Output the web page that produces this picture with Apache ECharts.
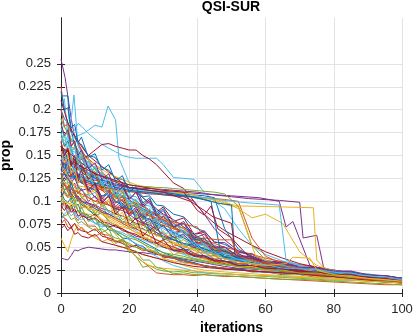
<!DOCTYPE html>
<html>
<head>
<meta charset="utf-8">
<style>html,body{margin:0;padding:0;background:#fff}#c{width:414px;height:333px}</style>
<script src="https://cdn.jsdelivr.net/npm/echarts@6/dist/echarts.min.js"></script>
</head>
<body>
<div id="c"></div>
<script>
// MATLAB default colour order
const palette = ['#0072BD','#D95319','#EDB120','#7E2F8E','#77AC30','#4DBEEE','#A2142F'];
const xTicks = [0,20,40,60,80,100];
const yTicks = [0,0.025,0.05,0.075,0.1,0.125,0.15,0.175,0.2,0.225,0.25];
// shared iteration grid for the bulk of the runs
const X = [0,1,2,3,4,5,6,8,10,12,14,16,18,20,22,24,26,28,30,33,36,39,42,45,48,52,56,60,65,70,75,80,85,90,95,100];
const runsL = [
 [.110,.102,.099,.104,.093,.097,.087,.085,.076,.077,.069,.067,.060,.059,.053,.051,.045,.046,.039,.038,.033,.033,.029,.029,.026,.026,.023,.023,.020,.020,.017,.017,.014,.014,.012,.011],
 [.090,.099,.086,.093,.084,.079,.084,.073,.073,.064,.063,.056,.056,.047,.040,.034,.028,.022,.021,.020,.020,.019,.020,.019,.018,.018,.017,.016,.015,.014,.013,.012,.011,.010,.009,.009],
 [.060,.052,.045,.058,.068,.074,.070,.065,.060,.056,.059,.052,.050,.047,.045,.042,.040,.038,.037,.035,.033,.031,.030,.028,.027,.026,.024,.023,.021,.020,.018,.017,.015,.014,.013,.012],
 [.038,.037,.036,.041,.047,.046,.048,.050,.049,.048,.047,.047,.046,.045,.044,.044,.043,.042,.041,.039,.037,.035,.033,.031,.029,.027,.026,.025,.023,.021,.019,.018,.016,.015,.014,.013],
 [.130,.121,.119,.110,.109,.101,.102,.090,.087,.078,.074,.065,.061,.048,.040,.028,.030,.026,.024,.023,.024,.022,.022,.021,.021,.020,.019,.018,.017,.016,.015,.014,.014,.013,.012,.011],
 [.100,.094,.090,.096,.086,.082,.088,.080,.076,.072,.074,.066,.064,.058,.054,.050,.044,.040,.035,.030,.027,.024,.022,.021,.021,.020,.019,.019,.018,.017,.016,.015,.014,.013,.012,.011],
 [.085,.082,.078,.072,.076,.070,.068,.066,.070,.062,.060,.057,.054,.050,.052,.048,.045,.043,.040,.038,.035,.032,.030,.028,.027,.026,.024,.023,.022,.021,.020,.018,.016,.015,.014,.013],
 [.120,.112,.115,.106,.100,.104,.096,.092,.084,.088,.078,.074,.070,.064,.060,.056,.052,.048,.044,.040,.036,.033,.030,.028,.027,.026,.024,.023,.022,.021,.020,.018,.016,.015,.013,.012],
 [.075,.080,.072,.070,.076,.068,.072,.064,.062,.066,.058,.056,.058,.052,.050,.046,.047,.043,.040,.038,.035,.032,.030,.028,.027,.025,.024,.023,.022,.021,.019,.018,.017,.015,.013,.012],
 [.140,.132,.126,.120,.116,.110,.106,.098,.092,.086,.080,.076,.070,.064,.058,.054,.048,.044,.038,.034,.030,.027,.025,.024,.023,.022,.021,.020,.019,.018,.017,.016,.015,.013,.012,.011],
 [.105,.110,.104,.114,.108,.100,.104,.098,.096,.092,.090,.086,.084,.080,.076,.074,.070,.066,.062,.058,.054,.050,.046,.043,.040,.037,.034,.031,.029,.027,.024,.022,.020,.018,.016,.014]
];
const runsB = [
 [.160,.152,.150,.140,.148,.136,.135,.128,.125,.118,.116,.108,.105,.098,.097,.090,.089,.080,.079,.070,.067,.058,.056,.048,.046,.039,.037,.032,.031,.027,.026,.022,.021,.019,.017,.015],
 [.180,.170,.168,.155,.154,.148,.146,.136,.132,.124,.122,.114,.114,.106,.105,.096,.095,.086,.085,.074,.071,.062,.059,.050,.048,.041,.039,.033,.032,.027,.026,.023,.021,.019,.017,.015],
 [.150,.138,.145,.128,.136,.124,.130,.112,.120,.104,.112,.098,.106,.090,.098,.082,.090,.076,.080,.066,.068,.055,.054,.046,.045,.039,.037,.032,.031,.027,.026,.022,.022,.018,.018,.015],
 [.200,.190,.186,.175,.172,.163,.162,.150,.148,.137,.134,.125,.124,.115,.114,.105,.106,.096,.095,.086,.083,.072,.067,.056,.053,.045,.042,.035,.033,.028,.027,.023,.022,.019,.018,.016],
 [.140,.146,.136,.130,.138,.126,.120,.124,.116,.112,.106,.108,.100,.094,.096,.088,.084,.080,.076,.072,.066,.062,.056,.052,.047,.042,.038,.035,.032,.029,.026,.023,.021,.019,.017,.015],
 [.170,.160,.164,.146,.150,.136,.142,.122,.128,.112,.120,.102,.110,.094,.100,.086,.092,.078,.084,.070,.072,.058,.060,.048,.047,.040,.038,.033,.032,.027,.026,.022,.022,.018,.018,.015],
 [.130,.122,.128,.114,.120,.108,.114,.100,.106,.094,.100,.090,.096,.086,.092,.082,.088,.078,.084,.072,.076,.064,.068,.055,.055,.044,.043,.035,.034,.029,.028,.023,.023,.019,.019,.016],
 [.120,.132,.120,.122,.106,.116,.104,.108,.096,.100,.088,.092,.080,.084,.074,.078,.066,.072,.060,.064,.052,.056,.045,.047,.038,.038,.032,.032,.028,.028,.024,.024,.020,.020,.016,.015],
 [.190,.180,.178,.166,.164,.153,.152,.139,.138,.127,.126,.115,.114,.103,.102,.091,.090,.079,.078,.066,.063,.054,.051,.044,.042,.037,.036,.031,.030,.027,.025,.023,.021,.019,.017,.015],
 [.210,.198,.186,.178,.172,.166,.160,.150,.144,.138,.132,.126,.120,.114,.110,.104,.098,.092,.086,.080,.072,.064,.056,.050,.045,.041,.037,.034,.031,.028,.025,.023,.021,.019,.017,.015],
 [.150,.156,.146,.140,.148,.136,.132,.126,.128,.120,.116,.110,.106,.102,.096,.092,.088,.084,.078,.072,.066,.060,.055,.050,.045,.041,.037,.034,.031,.028,.026,.023,.021,.019,.017,.015],
 [.110,.118,.114,.122,.116,.110,.112,.104,.100,.104,.096,.092,.094,.088,.086,.082,.080,.076,.074,.070,.066,.062,.058,.054,.050,.046,.042,.038,.034,.031,.028,.025,.022,.020,.018,.016],
 [.165,.150,.152,.134,.140,.122,.128,.108,.114,.096,.102,.086,.094,.078,.084,.070,.076,.062,.068,.054,.058,.046,.050,.040,.040,.034,.033,.029,.029,.025,.025,.021,.021,.018,.016,.014],
 [.145,.136,.142,.126,.138,.122,.128,.112,.118,.102,.110,.094,.102,.086,.094,.080,.088,.072,.080,.064,.068,.054,.056,.044,.045,.037,.037,.031,.030,.026,.026,.022,.022,.018,.018,.015],
 [.100,.112,.106,.110,.098,.104,.092,.098,.086,.096,.082,.090,.076,.084,.070,.078,.064,.072,.058,.062,.050,.054,.044,.045,.037,.037,.031,.031,.027,.027,.023,.023,.019,.019,.016,.014]
];
const runsC = [
 [.140,.150,.160,.172,.178,.185,.182,.174,.168,.162,.158,.154,.150,.148,.147,.147,.147,.147,.140,.126,.125,.124,.110,.100,.092,.070,.052,.042,.035,.030,.027,.024,.022,.019,.017,.015],
 [.150,.146,.140,.144,.138,.142,.146,.150,.156,.162,.163,.160,.158,.156,.156,.150,.146,.140,.132,.120,.114,.100,.086,.076,.068,.060,.052,.045,.038,.032,.028,.025,.022,.020,.018,.016],
 [.160,.154,.146,.140,.134,.130,.126,.122,.118,.116,.114,.113,.112,.112,.111,.111,.110,.110,.110,.109,.108,.107,.106,.104,.070,.048,.040,.034,.030,.027,.025,.022,.020,.018,.017,.015],
 [.140,.132,.136,.128,.124,.122,.120,.118,.116,.115,.114,.113,.112,.111,.110,.110,.109,.108,.108,.107,.106,.105,.104,.103,.102,.100,.060,.040,.032,.027,.024,.022,.020,.018,.017,.015],
 [.170,.162,.156,.150,.142,.138,.134,.126,.120,.116,.114,.112,.111,.110,.110,.109,.109,.108,.107,.106,.105,.104,.103,.102,.100,.092,.082,.086,.076,.045,.030,.024,.021,.019,.017,.015],
 [.120,.126,.130,.124,.128,.124,.122,.120,.118,.116,.114,.113,.112,.111,.110,.109,.108,.108,.107,.106,.105,.100,.086,.070,.058,.046,.040,.034,.030,.027,.025,.022,.020,.018,.017,.015],
 [.190,.182,.174,.168,.162,.156,.150,.142,.136,.130,.126,.122,.120,.118,.117,.116,.116,.115,.115,.114,.113,.112,.111,.110,.108,.095,.052,.036,.030,.027,.025,.022,.020,.018,.017,.015]
];
const runsE = [
 [.130,.140,.126,.122,.132,.118,.112,.106,.110,.096,.088,.084,.076,.072,.068,.062,.058,.054,.050,.046,.042,.038,.035,.033,.031,.029,.027,.025,.023,.021,.020,.018,.016,.015,.013,.012],
 [.095,.100,.092,.096,.088,.090,.084,.082,.086,.078,.076,.072,.070,.066,.064,.060,.058,.055,.052,.048,.045,.042,.039,.036,.034,.031,.029,.027,.025,.023,.021,.019,.017,.016,.014,.013],
 [.175,.160,.166,.156,.146,.152,.134,.138,.118,.124,.104,.110,.092,.098,.080,.086,.068,.074,.058,.062,.046,.050,.040,.041,.034,.035,.029,.029,.025,.025,.021,.021,.018,.017,.015,.013],
 [.155,.150,.158,.146,.140,.134,.136,.126,.120,.116,.110,.104,.100,.096,.094,.090,.086,.080,.076,.072,.066,.058,.052,.047,.043,.039,.036,.033,.030,.028,.026,.024,.022,.020,.017,.015],
 [.115,.108,.104,.110,.100,.104,.098,.094,.090,.086,.082,.078,.074,.070,.066,.062,.058,.055,.052,.048,.044,.040,.037,.034,.032,.030,.028,.026,.024,.022,.021,.019,.017,.016,.014,.012],
 [.135,.130,.124,.120,.126,.116,.112,.114,.104,.100,.096,.092,.090,.086,.080,.076,.074,.070,.064,.058,.054,.050,.045,.042,.039,.036,.033,.031,.028,.026,.024,.022,.020,.018,.016,.014],
 [.185,.170,.176,.154,.160,.140,.148,.130,.136,.116,.122,.104,.110,.092,.098,.080,.086,.070,.074,.058,.062,.048,.050,.041,.042,.035,.036,.030,.030,.026,.026,.022,.022,.018,.018,.015],
 [.080,.086,.090,.084,.088,.082,.080,.084,.076,.074,.072,.068,.066,.062,.060,.058,.055,.052,.050,.046,.043,.040,.037,.035,.033,.031,.029,.027,.025,.023,.021,.019,.017,.016,.014,.012],
 [.160,.150,.156,.140,.150,.136,.140,.124,.130,.114,.122,.108,.116,.102,.110,.096,.102,.088,.094,.078,.082,.064,.066,.050,.050,.040,.040,.033,.032,.027,.027,.022,.022,.018,.018,.016],
 [.125,.118,.112,.120,.110,.104,.100,.096,.092,.088,.086,.082,.078,.076,.072,.070,.066,.064,.060,.058,.054,.052,.048,.045,.042,.039,.036,.033,.030,.028,.026,.023,.021,.019,.017,.015],
 [.200,.182,.184,.160,.166,.144,.150,.128,.132,.112,.116,.098,.102,.086,.090,.074,.078,.062,.066,.051,.054,.043,.045,.037,.038,.032,.032,.028,.028,.024,.024,.020,.020,.016,.016,.013],
 [.105,.098,.100,.094,.096,.090,.088,.086,.084,.080,.078,.074,.072,.070,.066,.064,.062,.058,.056,.054,.050,.048,.045,.042,.039,.036,.034,.031,.029,.027,.025,.023,.021,.019,.017,.015],
 [.145,.134,.142,.128,.132,.120,.124,.110,.116,.100,.106,.092,.098,.084,.090,.076,.082,.068,.074,.060,.064,.051,.054,.043,.044,.037,.038,.031,.032,.027,.027,.023,.023,.019,.018,.015],
 [.090,.084,.086,.080,.082,.076,.078,.072,.068,.070,.064,.060,.058,.054,.050,.048,.046,.044,.042,.040,.038,.036,.034,.032,.031,.029,.027,.026,.024,.022,.021,.019,.017,.015,.014,.013],
 [.165,.172,.156,.160,.146,.156,.140,.144,.126,.132,.114,.120,.104,.110,.094,.100,.086,.092,.076,.080,.064,.066,.052,.052,.042,.042,.035,.034,.029,.029,.025,.025,.021,.021,.018,.016],
 [.070,.074,.068,.072,.064,.066,.062,.060,.064,.056,.054,.052,.050,.048,.045,.042,.040,.038,.036,.033,.031,.029,.028,.027,.026,.025,.024,.023,.022,.021,.019,.018,.016,.014,.012,.011],
 [.220,.200,.202,.180,.184,.164,.170,.148,.152,.134,.140,.122,.128,.110,.116,.098,.104,.086,.092,.072,.076,.058,.060,.046,.047,.038,.038,.032,.031,.027,.027,.023,.023,.019,.019,.016],
 [.125,.132,.136,.128,.132,.124,.126,.120,.116,.112,.110,.106,.104,.100,.098,.094,.090,.086,.082,.076,.070,.062,.055,.049,.044,.040,.036,.033,.030,.028,.026,.023,.021,.019,.017,.015],
 [.140,.134,.128,.122,.116,.110,.104,.096,.088,.080,.072,.064,.056,.048,.040,.034,.030,.028,.027,.026,.025,.024,.023,.022,.021,.020,.019,.019,.018,.017,.016,.015,.014,.013,.012,.011],
 [.105,.112,.116,.108,.104,.106,.100,.098,.094,.090,.086,.082,.078,.074,.070,.066,.062,.058,.054,.050,.046,.042,.038,.035,.032,.030,.028,.026,.024,.022,.021,.019,.017,.016,.014,.013]
];
const runsF = [
 [.125,.112,.116,.098,.104,.088,.094,.078,.082,.066,.070,.054,.058,.044,.046,.036,.036,.028,.026,.021,.022,.020,.020,.019,.019,.018,.017,.016,.015,.015,.014,.013,.012,.011,.010,.009],
 [.175,.162,.172,.152,.160,.142,.150,.130,.138,.118,.126,.106,.114,.096,.102,.086,.092,.076,.080,.064,.068,.052,.054,.043,.044,.036,.036,.030,.030,.026,.026,.022,.022,.018,.018,.015],
 [.095,.090,.096,.088,.092,.084,.086,.080,.082,.076,.072,.074,.068,.066,.062,.060,.056,.054,.050,.047,.044,.041,.038,.035,.032,.030,.028,.026,.024,.022,.020,.018,.017,.015,.014,.012],
 [.135,.142,.130,.136,.126,.130,.120,.116,.112,.106,.108,.100,.096,.092,.088,.084,.080,.076,.072,.066,.060,.054,.048,.044,.040,.036,.033,.030,.028,.026,.024,.022,.020,.018,.016,.015],
 [.115,.120,.110,.104,.112,.102,.098,.092,.096,.088,.084,.080,.076,.072,.070,.066,.062,.058,.054,.050,.046,.042,.038,.035,.033,.030,.028,.026,.024,.022,.020,.019,.017,.015,.014,.012],
 [.155,.142,.148,.130,.136,.120,.126,.108,.112,.094,.100,.082,.088,.070,.076,.058,.062,.050,.054,.042,.045,.036,.038,.032,.033,.028,.029,.025,.025,.022,.022,.019,.019,.016,.015,.013],
 [.185,.172,.178,.160,.166,.150,.156,.136,.142,.124,.130,.112,.120,.102,.110,.094,.100,.084,.090,.072,.078,.060,.064,.050,.050,.040,.040,.034,.033,.028,.028,.024,.024,.020,.019,.016],
 [.105,.100,.096,.092,.098,.090,.088,.084,.080,.076,.072,.068,.064,.060,.058,.054,.050,.047,.044,.042,.040,.037,.035,.033,.031,.029,.027,.026,.024,.022,.021,.019,.017,.016,.014,.013],
 [.145,.154,.138,.150,.132,.140,.124,.130,.114,.122,.104,.112,.094,.102,.084,.092,.074,.082,.064,.068,.052,.056,.044,.045,.037,.037,.032,.031,.027,.027,.023,.023,.019,.019,.016,.015],
 [.165,.150,.158,.138,.146,.126,.134,.112,.120,.098,.106,.086,.094,.074,.082,.062,.070,.054,.058,.046,.048,.040,.041,.035,.035,.030,.030,.027,.026,.023,.023,.020,.020,.017,.016,.013]
];
// individual runs with their own iteration points [iteration, prop]
const runPurpleTop = [[0,.255],[1.2,.235],[2,.215],[3,.19],[4,.17],[6,.155],[8,.145],[10,.135],[13,.125],[16,.115],[20,.105],[24,.095],[28,.085],[32,.075],[36,.065],[40,.055],[44,.05],[48,.045],[52,.04],[56,.035],[60,.031],[65,.028],[70,.025],[80,.02],[90,.017],[100,.015]];
const runBlueTop = [[0,.215],[2,.215],[2.4,.19],[4,.16],[6,.15],[9,.13],[12,.12],[16,.105],[20,.09],[25,.075],[30,.06],[35,.05],[40,.042],[46,.036],[52,.032],[60,.027],[70,.022],[80,.018],[90,.015],[100,.013]];
const runOrangeTop = [[0,.225],[1,.2],[2,.185],[4,.17],[7,.15],[10,.14],[14,.125],[18,.11],[22,.1],[26,.09],[30,.08],[35,.068],[40,.058],[45,.05],[50,.042],[55,.036],[60,.031],[70,.025],[80,.02],[90,.017],[100,.015]];
const runCyanEarly = [[0,.2],[1,.212],[2,.17],[3,.19],[3.8,.216],[5,.16],[8,.14],[12,.12],[16,.1],[20,.09],[25,.08],[30,.07],[35,.06],[40,.05],[45,.042],[50,.036],[60,.029],[70,.023],[80,.019],[90,.016],[100,.014]];
const runCyanSpike = [[0,.15],[2,.16],[4,.17],[7,.175],[10,.183],[12,.181],[13.8,.204],[16,.189],[17,.147],[20,.12],[25,.1],[30,.085],[35,.07],[40,.06],[45,.05],[50,.04],[60,.03],[70,.024],[80,.02],[90,.016],[100,.014]];
const runPurpleLong = [[0,.16],[5,.14],[10,.125],[20,.115],[30,.113],[40,.11],[45,.107],[50,.105],[55,.103],[64,.101],[70,.099],[71,.06],[75,.063],[77,.028],[80,.022],[90,.018],[100,.015]];
const runPurpleLong2 = [[0,.13],[8,.125],[15,.118],[25,.112],[35,.11],[42,.108],[50,.106],[58,.104],[64,.1],[66,.072],[68,.078],[73,.03],[80,.022],[90,.018],[100,.016]];
const runYellowLong = [[0,.17],[6,.15],[14,.13],[22,.118],[30,.112],[38,.108],[46,.1],[52,.095],[64,.094],[74,.093],[75,.036],[77,.028],[80,.022],[90,.017],[100,.014]];
const runYellowLong2 = [[0,.12],[8,.115],[18,.112],[28,.11],[38,.108],[44,.1],[51,.094],[52,.094],[57,.041],[60,.035],[70,.026],[80,.02],[90,.017],[100,.015]];
const runCyanLong = [[0,.14],[10,.12],[20,.113],[30,.11],[40,.105],[50,.1],[56,.098],[64,.096],[66,.036],[70,.03],[80,.021],[90,.017],[100,.015]];
const runBlueLong = [[0,.15],[10,.125],[20,.115],[30,.11],[40,.104],[46,.098],[50,.096],[51,.039],[55,.035],[60,.03],[70,.025],[80,.02],[90,.016],[100,.013]];
const runBlueLong2 = [[0,.13],[10,.12],[20,.112],[30,.108],[38,.105],[44,.1],[47,.04],[52,.035],[60,.03],[70,.024],[80,.019],[90,.016],[100,.013]];
const runRedLong = [[0,.16],[10,.13],[20,.115],[30,.11],[38,.1],[42,.09],[44.6,.083],[47,.08],[50,.076],[51,.045],[55,.037],[60,.03],[70,.024],[80,.02],[90,.017],[100,.014]];
const runRedLong2 = [[0,.15],[10,.13],[20,.118],[30,.112],[36,.11],[40,.09],[42,.085],[44,.095],[46,.07],[50,.06],[55,.04],[60,.032],[70,.025],[80,.02],[90,.017],[100,.014]];
const runOrangeLong = [[0,.12],[10,.1],[20,.09],[30,.08],[36,.075],[40,.072],[42,.06],[46,.058],[50,.058],[52,.04],[60,.032],[70,.026],[80,.02],[90,.016],[100,.014]];
const runYellowBump = [[0,.1],[10,.09],[20,.075],[30,.06],[40,.045],[50,.035],[60,.03],[66,.032],[68,.039],[73,.038],[75,.025],[80,.02],[90,.016],[100,.013]];
const specialRuns = [runPurpleTop,runBlueTop,runOrangeTop,runCyanEarly,runCyanSpike,runPurpleLong,runPurpleLong2,runYellowLong,runYellowLong2,runCyanLong,runBlueLong,runBlueLong2,runRedLong,runRedLong2,runOrangeLong,runYellowBump];
const specialColorIdx = [3,0,1,5,5,3,3,2,2,5,0,0,6,6,1,2];

const series = [];
const bulk = runsL.concat(runsB, runsC, runsE, runsF);
let k = 0;
function addLine(data, color){
  series.push({type:'line', data:data, showSymbol:false, symbol:'none', silent:true,
    lineStyle:{width:1, color:color}, emphasis:{disabled:true}, xAxisIndex:0, yAxisIndex:0});
}
bulk.forEach(function(ys, i){
  addLine(ys.map(function(y, j){return [X[j], y];}), palette[i % palette.length]);
  if (i % 4 === 2 && k < specialRuns.length) { addLine(specialRuns[k], palette[specialColorIdx[k]]); k++; }
});
for (; k < specialRuns.length; k++) addLine(specialRuns[k], palette[specialColorIdx[k]]);

const axisCol = '#262626';
const gridCol = '#e3e3e3';
const splitCols = yTicks.map(function(){return gridCol;}).concat(['rgba(0,0,0,0)','rgba(0,0,0,0)']);
const font = 'Liberation Sans, Arial, Helvetica, sans-serif';

const chart = echarts.init(document.getElementById('c'), null, {renderer:'canvas'});
chart.setOption({
  animation:false,
  backgroundColor:'#fff',
  title:{text:'QSI-SUR', left:231, top:0, padding:0, textAlign:'center',
    textStyle:{fontFamily:font, fontWeight:'bold', fontSize:14, color:'#000'}},
  grid:{left:61, right:12, top:18, bottom:40, containLabel:false, outerBoundsMode:'none'},
  xAxis:[{type:'value', min:0, max:100, interval:20, position:'bottom',
      name:'iterations', nameLocation:'middle', nameGap:26,
      nameTextStyle:{fontFamily:font, fontWeight:'bold', fontSize:14, color:'#000'},
      axisLine:{show:true, lineStyle:{color:axisCol, width:1}},
      axisTick:{show:true, inside:true, length:4, lineStyle:{color:axisCol}},
      axisLabel:{fontFamily:font, fontSize:13, color:axisCol, margin:10,
        customValues:xTicks},
      splitLine:{show:true, lineStyle:{color:gridCol, width:1}}},
    {type:'value', min:0, max:100, interval:20, position:'top',
      axisLine:{show:true, lineStyle:{color:axisCol, width:1}},
      axisTick:{show:true, inside:true, length:4, lineStyle:{color:axisCol}},
      axisLabel:{show:false}, splitLine:{show:false}}],
  yAxis:[{type:'value', min:0, max:0.3, interval:0.025, position:'left',
      name:'prop', nameLocation:'middle', nameGap:48, nameMoveOverlap:false,
      nameTextStyle:{fontFamily:font, fontWeight:'bold', fontSize:14, color:'#000'},
      axisLine:{show:true, lineStyle:{color:axisCol, width:1}},
      axisTick:{show:true, inside:true, length:4, lineStyle:{color:axisCol}, customValues:yTicks},
      axisLabel:{fontFamily:font, fontSize:13, color:axisCol, margin:10, customValues:yTicks},
      splitLine:{show:true, lineStyle:{color:splitCols, width:1}}},
    {type:'value', min:0, max:0.3, interval:0.025, position:'right',
      axisLine:{show:true, lineStyle:{color:axisCol, width:1}},
      axisTick:{show:true, inside:true, length:4, lineStyle:{color:axisCol}, customValues:yTicks},
      axisLabel:{show:false}, splitLine:{show:false}}],
  series:series
});
</script>
</body>
</html>
